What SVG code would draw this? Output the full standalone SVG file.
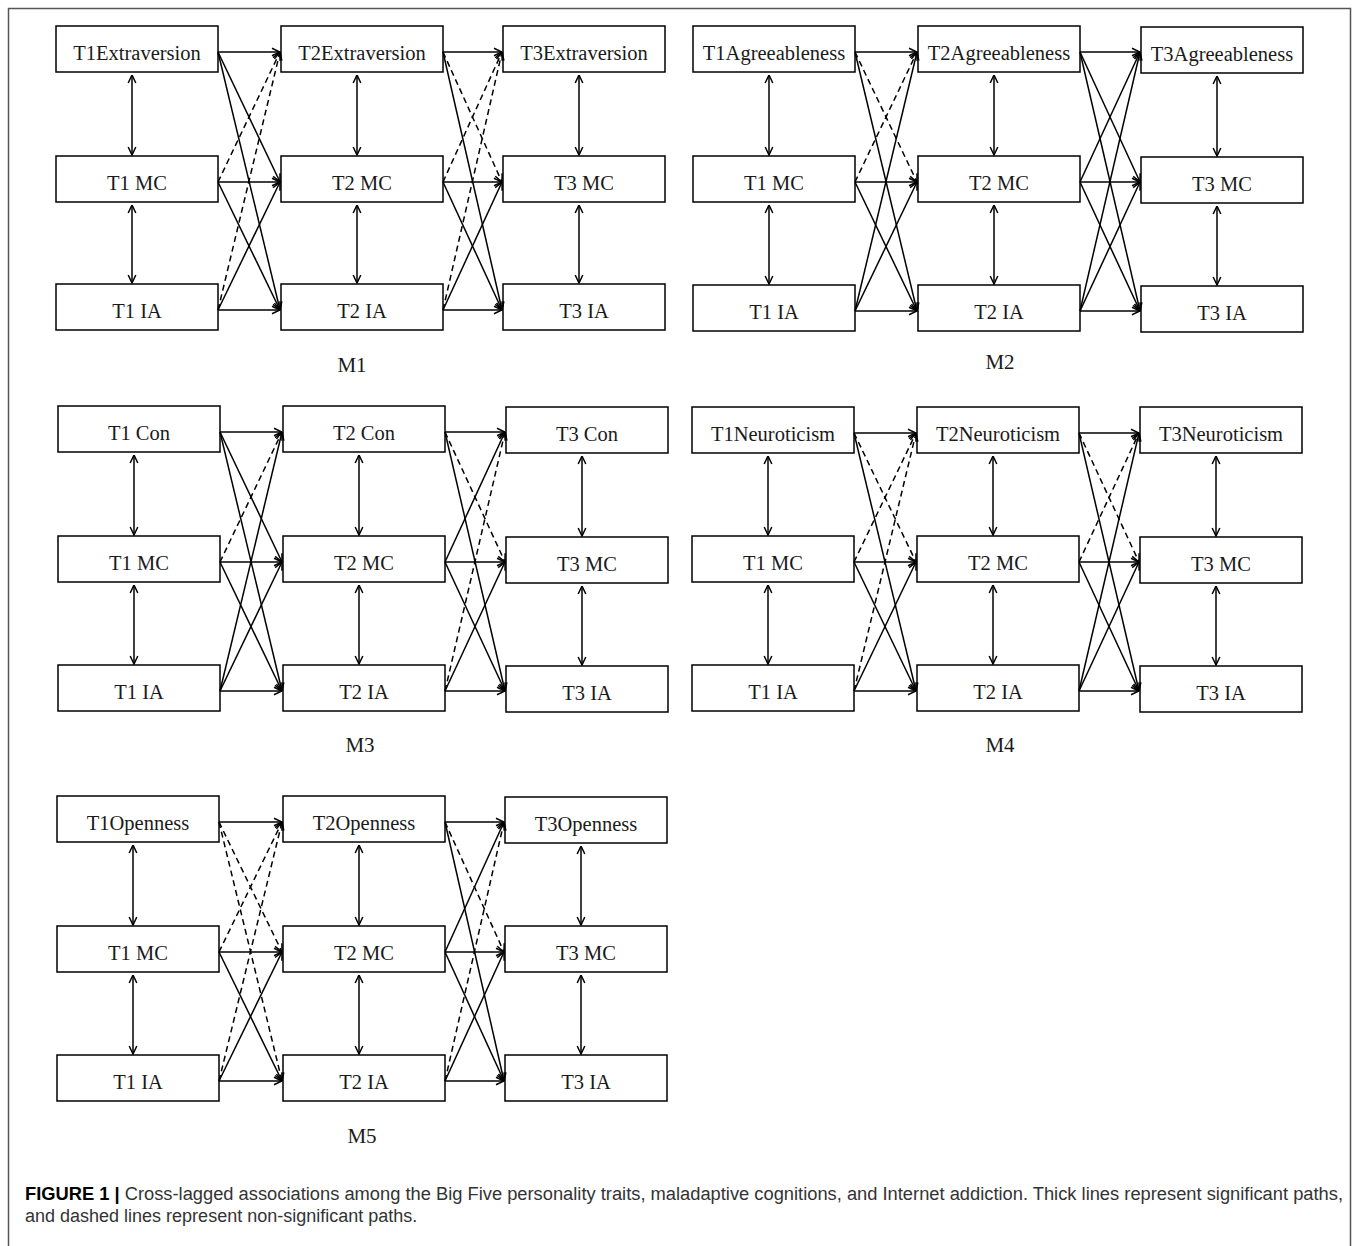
<svg xmlns="http://www.w3.org/2000/svg" width="1358" height="1246" viewBox="0 0 1358 1246">
<style>
.nd rect{fill:#fff;stroke:#000;stroke-width:1.5}
.nd text,.ml{font-family:"Liberation Serif","Times New Roman",serif;font-size:20.5px;fill:#1a1a1a;text-anchor:middle}
.ml{font-size:21px}
#connectors line{stroke:#000;stroke-width:1.5;marker-end:url(#ah)}
#connectors line.d{stroke-dasharray:6 4}
#connectors line.v{marker-start:url(#ah)}
.cap{font-family:"Liberation Sans",Arial,sans-serif;font-size:18px;fill:#333}
.cap .b{font-weight:bold;fill:#000}
</style>
<defs>
<marker id="ah" viewBox="0 0 10 10" refX="9.5" refY="5" markerWidth="10" markerHeight="10" markerUnits="userSpaceOnUse" orient="auto-start-reverse">
<path d="M1.5,1.2 L9.5,5 L1.5,8.8" fill="none" stroke="#000" stroke-width="1.5" stroke-dasharray="none"/>
</marker>
</defs>
<rect width="1358" height="1246" fill="#fff"/>
<path d="M8.5,1246 V8.5 H1350.5 V1246" fill="none" stroke="#555" stroke-width="1.5"/>

<!-- M1 -->
<g id="m1-t1e" class="nd"><rect x="56" y="26" width="162" height="46"/><text x="137" y="60">T1Extraversion</text></g>
<g id="m1-t1mc" class="nd"><rect x="56" y="156" width="162" height="46"/><text x="137" y="190">T1 MC</text></g>
<g id="m1-t1ia" class="nd"><rect x="56" y="284" width="162" height="46"/><text x="137" y="318">T1 IA</text></g>
<g id="m1-t2e" class="nd"><rect x="281" y="26" width="162" height="46"/><text x="362" y="60">T2Extraversion</text></g>
<g id="m1-t2mc" class="nd"><rect x="281" y="156" width="162" height="46"/><text x="362" y="190">T2 MC</text></g>
<g id="m1-t2ia" class="nd"><rect x="281" y="284" width="162" height="46"/><text x="362" y="318">T2 IA</text></g>
<g id="m1-t3e" class="nd"><rect x="503" y="26" width="162" height="46"/><text x="584" y="60">T3Extraversion</text></g>
<g id="m1-t3mc" class="nd"><rect x="503" y="156" width="162" height="46"/><text x="584" y="190">T3 MC</text></g>
<g id="m1-t3ia" class="nd"><rect x="503" y="284" width="162" height="46"/><text x="584" y="318">T3 IA</text></g>
<text class="ml" x="352" y="372">M1</text>

<!-- M2 -->
<g id="m2-t1a" class="nd"><rect x="693" y="26" width="162" height="46"/><text x="774" y="60">T1Agreeableness</text></g>
<g id="m2-t1mc" class="nd"><rect x="693" y="156" width="162" height="46"/><text x="774" y="190">T1 MC</text></g>
<g id="m2-t1ia" class="nd"><rect x="693" y="285" width="162" height="46"/><text x="774" y="319">T1 IA</text></g>
<g id="m2-t2a" class="nd"><rect x="918" y="26" width="162" height="46"/><text x="999" y="60">T2Agreeableness</text></g>
<g id="m2-t2mc" class="nd"><rect x="918" y="156" width="162" height="46"/><text x="999" y="190">T2 MC</text></g>
<g id="m2-t2ia" class="nd"><rect x="918" y="285" width="162" height="46"/><text x="999" y="319">T2 IA</text></g>
<g id="m2-t3a" class="nd"><rect x="1141" y="27" width="162" height="46"/><text x="1222" y="61">T3Agreeableness</text></g>
<g id="m2-t3mc" class="nd"><rect x="1141" y="157" width="162" height="46"/><text x="1222" y="191">T3 MC</text></g>
<g id="m2-t3ia" class="nd"><rect x="1141" y="286" width="162" height="46"/><text x="1222" y="320">T3 IA</text></g>
<text class="ml" x="1000" y="369">M2</text>

<!-- M3 -->
<g id="m3-t1con" class="nd"><rect x="58" y="406" width="162" height="46"/><text x="139" y="440">T1 Con</text></g>
<g id="m3-t1mc" class="nd"><rect x="58" y="536" width="162" height="46"/><text x="139" y="570">T1 MC</text></g>
<g id="m3-t1ia" class="nd"><rect x="58" y="665" width="162" height="46"/><text x="139" y="699">T1 IA</text></g>
<g id="m3-t2con" class="nd"><rect x="283" y="406" width="162" height="46"/><text x="364" y="440">T2 Con</text></g>
<g id="m3-t2mc" class="nd"><rect x="283" y="536" width="162" height="46"/><text x="364" y="570">T2 MC</text></g>
<g id="m3-t2ia" class="nd"><rect x="283" y="665" width="162" height="46"/><text x="364" y="699">T2 IA</text></g>
<g id="m3-t3con" class="nd"><rect x="506" y="407" width="162" height="46"/><text x="587" y="441">T3 Con</text></g>
<g id="m3-t3mc" class="nd"><rect x="506" y="537" width="162" height="46"/><text x="587" y="571">T3 MC</text></g>
<g id="m3-t3ia" class="nd"><rect x="506" y="666" width="162" height="46"/><text x="587" y="700">T3 IA</text></g>
<text class="ml" x="360" y="752">M3</text>

<!-- M4 -->
<g id="m4-t1n" class="nd"><rect x="692" y="407" width="162" height="46"/><text x="773" y="441">T1Neuroticism</text></g>
<g id="m4-t1mc" class="nd"><rect x="692" y="536" width="162" height="46"/><text x="773" y="570">T1 MC</text></g>
<g id="m4-t1ia" class="nd"><rect x="692" y="665" width="162" height="46"/><text x="773" y="699">T1 IA</text></g>
<g id="m4-t2n" class="nd"><rect x="917" y="407" width="162" height="46"/><text x="998" y="441">T2Neuroticism</text></g>
<g id="m4-t2mc" class="nd"><rect x="917" y="536" width="162" height="46"/><text x="998" y="570">T2 MC</text></g>
<g id="m4-t2ia" class="nd"><rect x="917" y="665" width="162" height="46"/><text x="998" y="699">T2 IA</text></g>
<g id="m4-t3n" class="nd"><rect x="1140" y="407" width="162" height="46"/><text x="1221" y="441">T3Neuroticism</text></g>
<g id="m4-t3mc" class="nd"><rect x="1140" y="537" width="162" height="46"/><text x="1221" y="571">T3 MC</text></g>
<g id="m4-t3ia" class="nd"><rect x="1140" y="666" width="162" height="46"/><text x="1221" y="700">T3 IA</text></g>
<text class="ml" x="1000" y="752">M4</text>

<!-- M5 -->
<g id="m5-t1o" class="nd"><rect x="57" y="796" width="162" height="46"/><text x="138" y="830">T1Openness</text></g>
<g id="m5-t1mc" class="nd"><rect x="57" y="926" width="162" height="46"/><text x="138" y="960">T1 MC</text></g>
<g id="m5-t1ia" class="nd"><rect x="57" y="1055" width="162" height="46"/><text x="138" y="1089">T1 IA</text></g>
<g id="m5-t2o" class="nd"><rect x="283" y="796" width="162" height="46"/><text x="364" y="830">T2Openness</text></g>
<g id="m5-t2mc" class="nd"><rect x="283" y="926" width="162" height="46"/><text x="364" y="960">T2 MC</text></g>
<g id="m5-t2ia" class="nd"><rect x="283" y="1055" width="162" height="46"/><text x="364" y="1089">T2 IA</text></g>
<g id="m5-t3o" class="nd"><rect x="505" y="797" width="162" height="46"/><text x="586" y="831">T3Openness</text></g>
<g id="m5-t3mc" class="nd"><rect x="505" y="926" width="162" height="46"/><text x="586" y="960">T3 MC</text></g>
<g id="m5-t3ia" class="nd"><rect x="505" y="1055" width="162" height="46"/><text x="586" y="1089">T3 IA</text></g>
<text class="ml" x="362" y="1143">M5</text>

<g id="connectors">
<!-- M1 stage 1 -->
<line x1="218" y1="52" x2="280" y2="52"/>
<line x1="218" y1="52" x2="280" y2="182"/>
<line x1="218" y1="52" x2="280" y2="310"/>
<line class="d" x1="218" y1="182" x2="280" y2="52"/>
<line x1="218" y1="182" x2="280" y2="182"/>
<line x1="218" y1="182" x2="280" y2="310"/>
<line class="d" x1="218" y1="310" x2="280" y2="52"/>
<line x1="218" y1="310" x2="280" y2="182"/>
<line x1="218" y1="310" x2="280" y2="310"/>
<!-- M1 stage 2 -->
<line x1="443" y1="52" x2="502" y2="52"/>
<line class="d" x1="443" y1="52" x2="502" y2="182"/>
<line x1="443" y1="52" x2="502" y2="310"/>
<line class="d" x1="443" y1="182" x2="502" y2="52"/>
<line x1="443" y1="182" x2="502" y2="182"/>
<line x1="443" y1="182" x2="502" y2="310"/>
<line class="d" x1="443" y1="310" x2="502" y2="52"/>
<line x1="443" y1="310" x2="502" y2="182"/>
<line x1="443" y1="310" x2="502" y2="310"/>
<!-- M1 verticals -->
<line class="v" x1="132" y1="75" x2="132" y2="155"/>
<line class="v" x1="132" y1="205" x2="132" y2="283"/>
<line class="v" x1="357" y1="75" x2="357" y2="155"/>
<line class="v" x1="357" y1="205" x2="357" y2="283"/>
<line class="v" x1="579" y1="75" x2="579" y2="155"/>
<line class="v" x1="579" y1="205" x2="579" y2="283"/>

<!-- M2 stage 1 -->
<line x1="855" y1="52" x2="917" y2="52"/>
<line class="d" x1="855" y1="52" x2="917" y2="182"/>
<line x1="855" y1="52" x2="917" y2="311"/>
<line class="d" x1="855" y1="182" x2="917" y2="52"/>
<line x1="855" y1="182" x2="917" y2="182"/>
<line x1="855" y1="182" x2="917" y2="311"/>
<line x1="855" y1="311" x2="917" y2="52"/>
<line x1="855" y1="311" x2="917" y2="182"/>
<line x1="855" y1="311" x2="917" y2="311"/>
<!-- M2 stage 2 -->
<line x1="1080" y1="52" x2="1140" y2="52"/>
<line x1="1080" y1="52" x2="1140" y2="182"/>
<line x1="1080" y1="52" x2="1140" y2="311"/>
<line x1="1080" y1="182" x2="1140" y2="52"/>
<line x1="1080" y1="182" x2="1140" y2="182"/>
<line x1="1080" y1="182" x2="1140" y2="311"/>
<line x1="1080" y1="311" x2="1140" y2="52"/>
<line x1="1080" y1="311" x2="1140" y2="182"/>
<line x1="1080" y1="311" x2="1140" y2="311"/>
<!-- M2 verticals -->
<line class="v" x1="769" y1="75" x2="769" y2="155"/>
<line class="v" x1="769" y1="205" x2="769" y2="284"/>
<line class="v" x1="994" y1="75" x2="994" y2="155"/>
<line class="v" x1="994" y1="205" x2="994" y2="284"/>
<line class="v" x1="1217" y1="76" x2="1217" y2="156"/>
<line class="v" x1="1217" y1="206" x2="1217" y2="285"/>

<!-- M3 stage 1 -->
<line x1="220" y1="432" x2="282" y2="432"/>
<line x1="220" y1="432" x2="282" y2="562"/>
<line x1="220" y1="432" x2="282" y2="691"/>
<line class="d" x1="220" y1="562" x2="282" y2="432"/>
<line x1="220" y1="562" x2="282" y2="562"/>
<line x1="220" y1="562" x2="282" y2="691"/>
<line x1="220" y1="691" x2="282" y2="432"/>
<line x1="220" y1="691" x2="282" y2="562"/>
<line x1="220" y1="691" x2="282" y2="691"/>
<!-- M3 stage 2 -->
<line x1="445" y1="432" x2="505" y2="432"/>
<line class="d" x1="445" y1="432" x2="505" y2="562"/>
<line x1="445" y1="432" x2="505" y2="691"/>
<line x1="445" y1="562" x2="505" y2="432"/>
<line x1="445" y1="562" x2="505" y2="562"/>
<line x1="445" y1="562" x2="505" y2="691"/>
<line class="d" x1="445" y1="691" x2="505" y2="432"/>
<line x1="445" y1="691" x2="505" y2="562"/>
<line x1="445" y1="691" x2="505" y2="691"/>
<!-- M3 verticals -->
<line class="v" x1="134" y1="455" x2="134" y2="535"/>
<line class="v" x1="134" y1="585" x2="134" y2="664"/>
<line class="v" x1="359" y1="455" x2="359" y2="535"/>
<line class="v" x1="359" y1="585" x2="359" y2="664"/>
<line class="v" x1="582" y1="456" x2="582" y2="536"/>
<line class="v" x1="582" y1="586" x2="582" y2="665"/>

<!-- M4 stage 1 -->
<line x1="854" y1="433" x2="916" y2="433"/>
<line class="d" x1="854" y1="433" x2="916" y2="562"/>
<line x1="854" y1="433" x2="916" y2="691"/>
<line class="d" x1="854" y1="562" x2="916" y2="433"/>
<line x1="854" y1="562" x2="916" y2="562"/>
<line x1="854" y1="562" x2="916" y2="691"/>
<line class="d" x1="854" y1="691" x2="916" y2="433"/>
<line x1="854" y1="691" x2="916" y2="562"/>
<line x1="854" y1="691" x2="916" y2="691"/>
<!-- M4 stage 2 -->
<line x1="1079" y1="433" x2="1139" y2="433"/>
<line class="d" x1="1079" y1="433" x2="1139" y2="562"/>
<line x1="1079" y1="433" x2="1139" y2="691"/>
<line class="d" x1="1079" y1="562" x2="1139" y2="433"/>
<line x1="1079" y1="562" x2="1139" y2="562"/>
<line x1="1079" y1="562" x2="1139" y2="691"/>
<line x1="1079" y1="691" x2="1139" y2="433"/>
<line x1="1079" y1="691" x2="1139" y2="562"/>
<line x1="1079" y1="691" x2="1139" y2="691"/>
<!-- M4 verticals -->
<line class="v" x1="768" y1="456" x2="768" y2="535"/>
<line class="v" x1="768" y1="585" x2="768" y2="664"/>
<line class="v" x1="993" y1="456" x2="993" y2="535"/>
<line class="v" x1="993" y1="585" x2="993" y2="664"/>
<line class="v" x1="1216" y1="456" x2="1216" y2="536"/>
<line class="v" x1="1216" y1="586" x2="1216" y2="665"/>

<!-- M5 stage 1 -->
<line x1="219" y1="822" x2="282" y2="822"/>
<line class="d" x1="219" y1="822" x2="282" y2="952"/>
<line class="d" x1="219" y1="822" x2="282" y2="1081"/>
<line class="d" x1="219" y1="952" x2="282" y2="822"/>
<line x1="219" y1="952" x2="282" y2="952"/>
<line x1="219" y1="952" x2="282" y2="1081"/>
<line class="d" x1="219" y1="1081" x2="282" y2="822"/>
<line x1="219" y1="1081" x2="282" y2="952"/>
<line x1="219" y1="1081" x2="282" y2="1081"/>
<!-- M5 stage 2 -->
<line x1="445" y1="822" x2="504" y2="822"/>
<line class="d" x1="445" y1="822" x2="504" y2="952"/>
<line x1="445" y1="822" x2="504" y2="1081"/>
<line x1="445" y1="952" x2="504" y2="822"/>
<line x1="445" y1="952" x2="504" y2="952"/>
<line x1="445" y1="952" x2="504" y2="1081"/>
<line class="d" x1="445" y1="1081" x2="504" y2="822"/>
<line x1="445" y1="1081" x2="504" y2="952"/>
<line x1="445" y1="1081" x2="504" y2="1081"/>
<!-- M5 verticals -->
<line class="v" x1="133" y1="845" x2="133" y2="925"/>
<line class="v" x1="133" y1="975" x2="133" y2="1054"/>
<line class="v" x1="359" y1="845" x2="359" y2="925"/>
<line class="v" x1="359" y1="975" x2="359" y2="1054"/>
<line class="v" x1="581" y1="846" x2="581" y2="925"/>
<line class="v" x1="581" y1="975" x2="581" y2="1054"/>
</g>

<text class="cap" x="25" y="1200" textLength="1318" lengthAdjust="spacingAndGlyphs"><tspan class="b">FIGURE 1 |</tspan> Cross-lagged associations among the Big Five personality traits, maladaptive cognitions, and Internet addiction. Thick lines represent significant paths,</text>
<text class="cap" x="25" y="1222">and dashed lines represent non-significant paths.</text>
</svg>
